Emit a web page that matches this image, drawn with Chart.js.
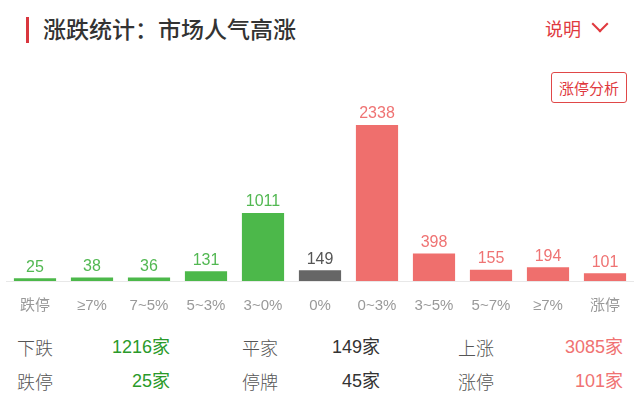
<!DOCTYPE html>
<html>
<head>
<meta charset="utf-8">
<script src="https://cdn.jsdelivr.net/npm/chart.js@4"></script>
<style>
  body { margin: 0; width: 640px; height: 407px; background: #fff; position: relative; overflow: hidden;
         font-family: "Liberation Sans", "Noto Sans CJK SC", sans-serif; }
  .abs { position: absolute; white-space: nowrap; }
  .mark { left: 26px; top: 17px; width: 3px; height: 26px; background: #d9363e; }
  .title { left: 43px; top: 14px; font-size: 23px; line-height: 28px; color: #333; font-weight: 500;
           font-family: "Noto Sans CJK SC", sans-serif; }
  .more { left: 545px; top: 16px; font-size: 18px; line-height: 24px; color: #e0393e; font-family: "Noto Sans CJK SC", sans-serif; }
  .chev { left: 594px; top: 18px; width: 10px; height: 10px; border-right: 2px solid #e0393e; border-bottom: 2px solid #e0393e; transform: rotate(45deg); }
  .btn { left: 551px; top: 72px; width: 74px; height: 29px; border: 1.5px solid #e04848; border-radius: 3px;
         color: #e0393e; font-size: 15px; line-height: 29px; text-align: center; font-family: "Noto Sans CJK SC", sans-serif; }
  #c { position: absolute; left: 0; top: 60px; }
  .lab { font-size: 18px; line-height: 24px; color: #555; font-family: "Noto Sans CJK SC", sans-serif; font-weight: 300; }
  .val { font-size: 18px; line-height: 24px; text-align: right; }
</style>
</head>
<body>
<div class="abs mark"></div>
<div class="abs title">涨跌统计：市场人气高涨</div>
<div class="abs more">说明</div>
<div class="abs chev"></div>
<div class="abs btn">涨停分析</div>
<canvas id="c" width="640" height="271"></canvas>
<div id="stats"></div>
<script>
let categories = ['跌停', '≥7%', '7~5%', '5~3%', '3~0%', '0%', '0~3%', '3~5%', '5~7%', '≥7%', '涨停']
let counts = [25, 38, 36, 131, 1011, 149, 2338, 398, 155, 194, 101]
let barColors = ['#4cb84a', '#4cb84a', '#4cb84a', '#4cb84a', '#4cb84a', '#666666', '#ef6f6d', '#ef6f6d', '#ef6f6d', '#ef6f6d', '#ef6f6d']
let labelColors = ['#52b852', '#52b852', '#52b852', '#52b852', '#52b852', '#555555', '#ef7373', '#ef7373', '#ef7373', '#ef7373', '#ef7373']

// 下方统计
let statNames = ['下跌', '平家', '上涨', '跌停', '停牌', '涨停']
let statValues = ['1216家', '149家', '3085家', '25家', '45家', '101家']
let statColors = ['#2a9a2a', '#333', '#f07272', '#2a9a2a', '#333', '#f07272']

let colLeft = [17, 242, 458]
let colRight = [170, 380, 623]
let rowTop = [335, 369]
let stats = document.getElementById('stats')
for (let i = 0; i < statNames.length; i++) {
    let col = i % 3, row = Math.floor(i / 3)
    let n = document.createElement('div')
    n.className = 'abs lab'
    n.style.left = colLeft[col] + 'px'
    n.style.top = rowTop[row] + 'px'
    n.innerText = statNames[i]
    stats.appendChild(n)
    let v = document.createElement('div')
    v.className = 'abs val'
    v.style.right = (640 - colRight[col]) + 'px'
    v.style.top = rowTop[row] + 'px'
    v.style.color = statColors[i]
    v.innerText = statValues[i]
    stats.appendChild(v)
}

// 柱子上的数字
let valueLabels = {
    id: 'valueLabels',
    afterDatasetsDraw(chart) {
        let ctx = chart.ctx
        let meta = chart.getDatasetMeta(0)
        ctx.save()
        ctx.font = '16px "Liberation Sans", sans-serif'
        ctx.textAlign = 'center'
        ctx.textBaseline = 'bottom'
        meta.data.forEach(function (bar, i) {
            ctx.fillStyle = labelColors[i]
            ctx.fillText(counts[i], bar.x, bar.y - 3)
        })
        ctx.restore()
    }
}

new Chart(document.getElementById('c').getContext('2d'), {
    type: 'bar',
    data: {
        labels: categories,
        datasets: [{
            data: counts,
            backgroundColor: barColors,
            base: -15,
            categoryPercentage: 1,
            barPercentage: 0.74
        }]
    },
    options: {
        responsive: false,
        animation: false,
        layout: { padding: { top: 41, left: 6.5, right: 6.5, bottom: 0 } },
        plugins: { legend: { display: false }, tooltip: { enabled: false } },
        scales: {
            x: {
                grid: { display: false, drawTicks: false },
                border: { display: true, color: '#e8e8e8', width: 1 },
                ticks: { color: '#999', padding: 16, font: { size: 15, family: '"Liberation Sans", "Noto Sans CJK SC", sans-serif' } }
            },
            y: { display: false, min: -15, max: 2700 }
        }
    },
    plugins: [valueLabels]
})
</script>
</body>
</html>
